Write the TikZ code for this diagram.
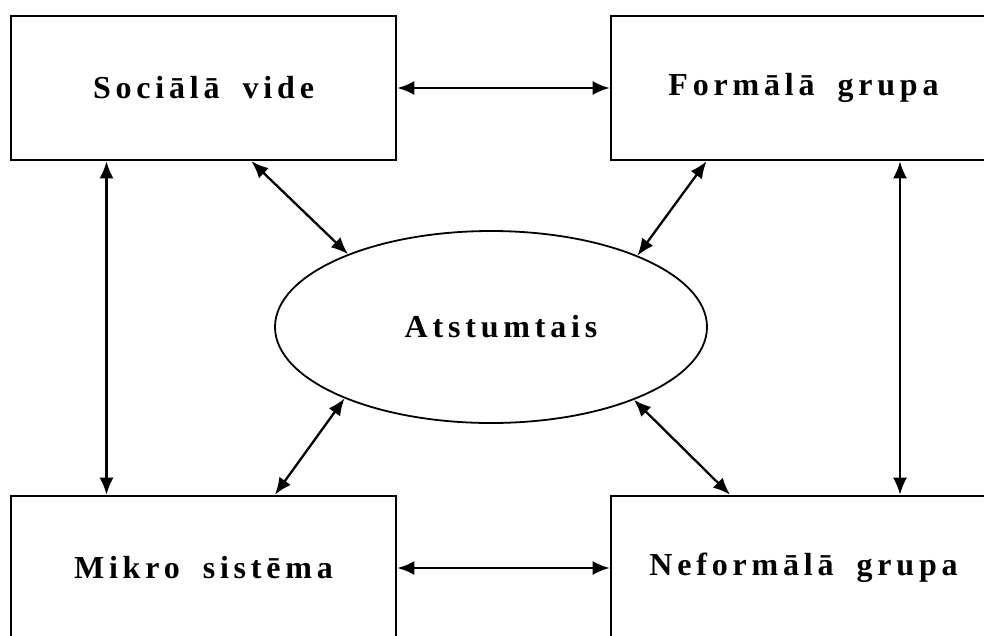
\documentclass[tikz,border=0pt]{standalone}
\usepackage{fontspec}
\setmainfont{Liberation Serif}
\newfontfamily\lvfont[LetterSpace=15, WordSpace=1.8]{Liberation Serif}
\usetikzlibrary{arrows.meta, shapes.geometric, positioning}

\tikzset{
    kaste/.style={draw, line width=2.6pt, minimum width=385pt, minimum height=144pt,
        inner sep=0pt, font=\lvfont\bfseries\fontsize{32}{38}\selectfont},
    vidus/.style={draw, ellipse, line width=1.8pt, minimum width=432pt, minimum height=192pt,
        inner sep=0pt, font=\lvfont\bfseries\fontsize{32}{38}\selectfont},
    bulta/.style={<->, line width=2.3pt}
}

\begin{document}
\begin{tikzpicture}[>={Latex[length=17pt,width=14pt]}, x=1pt, y=-1pt]
    \clip (0,0) rectangle (984,635);

    % 1. Kastes
    \node[kaste] (sv) at (203.5,88) {Sociālā vide};
    \node[kaste] (fg) at (803.5,88) {Formālā grupa};
    \node[kaste] (ms) at (203.5,568) {Mikro sistēma};
    \node[kaste] (ng) at (803.5,568) {Neformālā grupa};

    % 2. Centrs
    \node[vidus] (at) at (491,327) {\hspace{20pt}Atstumtais};

    % 3. Bultas starp kastēm
    \draw[bulta] (sv.east) -- (fg.west);
    \draw[bulta] (ms.east) -- (ng.west);
    \draw[bulta] ([xshift=-97pt]sv.south) -- ([xshift=-97pt]ms.north);
    \draw[bulta] ([xshift=96.5pt]fg.south) -- ([xshift=96.5pt]ng.north);

    % 4. Bultas uz centru
    \draw[bulta] ([xshift=48pt]sv.south) -- (at.153.5);
    \draw[bulta] ([xshift=-97pt]fg.south) -- (at.26.5);
    \draw[bulta] ([xshift=71.5pt]ms.north) -- (at.206.5);
    \draw[bulta] ([xshift=-73.5pt]ng.north) -- (at.333.5);
\end{tikzpicture}
\end{document}
